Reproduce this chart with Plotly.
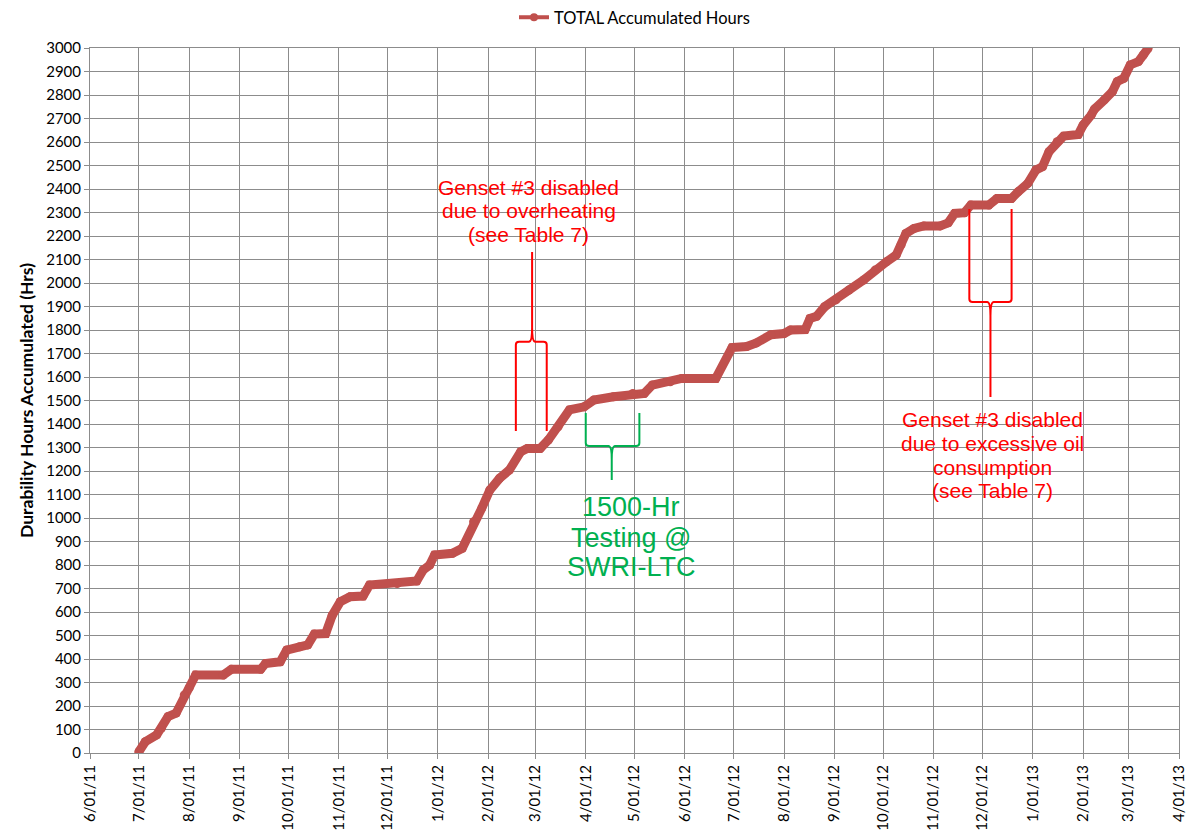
import plotly.graph_objects as go

# accumulated durability hours
dates = [
    "2011-07-01", "2011-07-05", "2011-07-12", "2011-07-15", "2011-07-19", "2011-07-24",
    "2011-07-29", "2011-08-01", "2011-08-05", "2011-08-22", "2011-08-27", "2011-09-14",
    "2011-09-17", "2011-09-26", "2011-09-30", "2011-10-08", "2011-10-13", "2011-10-17",
    "2011-10-24", "2011-10-28", "2011-11-02", "2011-11-08", "2011-11-16", "2011-11-20",
    "2011-12-07", "2011-12-19", "2011-12-23", "2011-12-27", "2011-12-30", "2012-01-10",
    "2012-01-16", "2012-01-23", "2012-01-28", "2012-02-02", "2012-02-08", "2012-02-14",
    "2012-02-21", "2012-02-25", "2012-03-04", "2012-03-09", "2012-03-15", "2012-03-22",
    "2012-03-31", "2012-04-06", "2012-04-18", "2012-04-30", "2012-05-07", "2012-05-12",
    "2012-05-23", "2012-05-30", "2012-06-20", "2012-06-30", "2012-07-09", "2012-07-15",
    "2012-07-24", "2012-08-01", "2012-08-05", "2012-08-14", "2012-08-17", "2012-08-21",
    "2012-08-26", "2012-09-02", "2012-09-10", "2012-09-19", "2012-09-26", "2012-10-03",
    "2012-10-09", "2012-10-12", "2012-10-15", "2012-10-20", "2012-10-26", "2012-11-05",
    "2012-11-10", "2012-11-14", "2012-11-20", "2012-11-24", "2012-12-05", "2012-12-10",
    "2012-12-19", "2012-12-23", "2012-12-29", "2013-01-03", "2013-01-07", "2013-01-11",
    "2013-01-16", "2013-01-20", "2013-01-29", "2013-02-01", "2013-02-06", "2013-02-08",
    "2013-02-14", "2013-02-19", "2013-02-22", "2013-02-26", "2013-03-02", "2013-03-07",
    "2013-03-10", "2013-03-13",
]
hours = [
    5, 48, 77, 106, 155, 170,
    247, 277, 332, 332, 356, 356,
    381, 388, 438, 452, 460, 506,
    508, 585, 644, 665, 668, 715,
    721, 732, 779, 800, 843, 850,
    871, 984, 1041, 1119, 1169, 1204,
    1282, 1296, 1296, 1332, 1388, 1460,
    1473, 1502, 1516, 1530, 1530, 1566,
    1580, 1594, 1594, 1725, 1730, 1745,
    1780, 1785, 1800, 1802, 1849, 1858,
    1899, 1928, 1970, 2013, 2055, 2090,
    2119, 2162, 2211, 2232, 2243, 2243,
    2256, 2296, 2299, 2332, 2332, 2360,
    2360, 2388, 2424, 2481, 2495, 2559,
    2601, 2625, 2632, 2672, 2715, 2740,
    2779, 2814, 2857, 2871, 2928, 2942,
    2970, 2999,
]

# annotation texts, one entry per line
note1_lines = ["Genset #3 disabled", "due to overheating", "(see Table 7)"]
note1_y = [2408, 2310, 2208]
note2_lines = ["Genset #3 disabled", "due to excessive oil", "consumption", "(see Table 7)"]
note2_y = [1421, 1319, 1217, 1115]
note3_lines = ["1500-Hr", "Testing @", "SWRI-LTC"]
note3_y = [1046, 914, 791]

RED = "#C0504D"
tick_font = dict(family="Lato", size=15, color="#000000")
grid = "#8C8C8C"

fig = go.Figure()
fig.add_trace(go.Scatter(
    x=dates, y=hours, mode="lines+markers", showlegend=False,
    line=dict(color=RED, width=9), marker=dict(color=RED, size=9),
))
# legend entry only
fig.add_trace(go.Scatter(
    x=[None], y=[None], mode="lines+markers", name="TOTAL Accumulated Hours",
    line=dict(color=RED, width=4), marker=dict(color=RED, size=8),
))

# braces
brace_red = dict(color="#FF0000", width=2)
brace_green = dict(color="#00B050", width=2)
fig.add_shape(type="path", xref="x", yref="y", line=brace_red,
              path="M2012-02-18,1370 L2012-02-18,1737 Q2012-02-18,1750 2012-02-20,1750 "
                   "L2012-02-26,1750 Q2012-02-28,1750 2012-02-28,1810 L2012-02-28,2132 "
                   "M2012-03-08,1370 L2012-03-08,1737 Q2012-03-08,1750 2012-03-06,1750 "
                   "L2012-03-01,1750 Q2012-02-28,1750 2012-02-28,1810")
fig.add_shape(type="path", xref="x", yref="y", line=brace_green,
              path="M2012-04-01,1447 L2012-04-01,1319 Q2012-04-01,1306 2012-04-03,1306 "
                   "L2012-04-15,1306 Q2012-04-17,1306 2012-04-17,1250 L2012-04-17,1162 "
                   "M2012-05-04,1447 L2012-05-04,1319 Q2012-05-04,1306 2012-05-02,1306 "
                   "L2012-04-19,1306 Q2012-04-17,1306 2012-04-17,1250")
fig.add_shape(type="path", xref="x", yref="y", line=brace_red,
              path="M2012-11-23,2315 L2012-11-23,1932 Q2012-11-23,1919 2012-11-25,1919 "
                   "L2012-12-04,1919 Q2012-12-06,1919 2012-12-06,1860 L2012-12-06,1515 "
                   "M2012-12-19,2315 L2012-12-19,1932 Q2012-12-19,1919 2012-12-17,1919 "
                   "L2012-12-08,1919 Q2012-12-06,1919 2012-12-06,1860")

red_font = dict(family="Liberation Sans", size=21, color="#FF0000")
green_font = dict(family="Liberation Sans", size=27, color="#00B050")
for txt, yv in zip(note1_lines, note1_y):
    fig.add_annotation(x="2012-02-26", y=yv, text=txt, showarrow=False, font=red_font)
for txt, yv in zip(note2_lines, note2_y):
    fig.add_annotation(x="2012-12-07", y=yv, text=txt, showarrow=False, font=red_font)
for txt, yv in zip(note3_lines, note3_y):
    fig.add_annotation(x="2012-04-29", y=yv, text=txt, showarrow=False, font=green_font)

fig.update_xaxes(
    range=["2011-06-01", "2013-04-01"], tick0="2011-06-01", dtick="M1",
    tickformat="%-m/%d/%y", tickangle=-90, tickfont=tick_font,
    showgrid=True, gridcolor=grid, gridwidth=1,
    showline=True, linecolor=grid, mirror=True,
    ticks="outside", ticklen=5, tickcolor=grid, automargin=False,
)
fig.update_yaxes(
    range=[0, 3000], dtick=100, tickfont=tick_font,
    showgrid=True, gridcolor=grid, gridwidth=1,
    showline=True, linecolor=grid, mirror=True,
    ticks="outside", ticklen=5, tickcolor=grid, automargin=False,
    title=dict(text="<b>Durability Hours Accumulated (Hrs)</b>",
               font=dict(family="Lato", size=17.5, color="#000000"), standoff=8),
)
fig.update_layout(
    width=1189, height=827,
    margin=dict(l=82, r=18, t=40, b=82),
    plot_bgcolor="white", paper_bgcolor="white",
    legend=dict(orientation="h", x=0.5, xanchor="center",
                yref="container", y=0.9885, yanchor="middle",
                font=dict(family="Lato", size=16.5, color="#000000")),
)
fig.write_html("out.html")
